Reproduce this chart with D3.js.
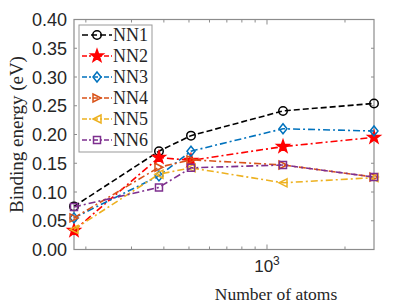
<!DOCTYPE html>
<html>
<head>
<meta charset="utf-8">
<script src="https://cdn.jsdelivr.net/npm/d3@7"></script>
<style>
  body { margin: 0; background: #fff; }
  svg text { fill: #262626; }
</style>
</head>
<body>
<svg id="chart" width="407" height="305"></svg>
<script>
// data
const atoms = [180, 383, 509, 1153, 2588];
const names = ["NN1", "NN2", "NN3", "NN4", "NN5", "NN6"];
const nn1 = [0.075, 0.171, 0.198, 0.241, 0.254];
const nn2 = [0.033, 0.160, 0.155, 0.179, 0.195];
const nn3 = [0.055, 0.128, 0.171, 0.210, 0.206];
const nn4 = [0.055, 0.143, 0.156, 0.147, 0.126];
const nn5 = [0.035, 0.131, 0.142, 0.116, 0.125];
const nn6 = [0.074, 0.108, 0.142, 0.147, 0.126];
const yTicks = [0, 0.05, 0.1, 0.15, 0.2, 0.25, 0.3, 0.35, 0.4];
const xMinor = [200, 300, 400, 500, 600, 700, 800, 900, 2000];

const colors = ["#000000", "#ff0000", "#0072bd", "#d95319", "#edb120", "#7e2f8e"];
const shapes = ["circle", "star", "diamond", "right", "left", "square"];
const series = [nn1, nn2, nn3, nn4, nn5, nn6];

const margin = { top: 19.5, right: 33, bottom: 55.5, left: 74 };
const W = 407, H = 305;
const width = W - margin.left - margin.right;
const height = H - margin.top - margin.bottom;

const svg = d3.select("#chart");
const g = svg.append("g").attr("transform", `translate(${margin.left},${margin.top})`);

const x = d3.scaleLog().domain([180, 2588]).range([0, width]);
const y = d3.scaleLinear().domain([0, 0.4]).range([height, 0]);

const axisColor = "#8c8c8c";
const tickLen = 3;

// box
g.append("rect")
  .attr("width", width).attr("height", height)
  .attr("fill", "none").attr("stroke", axisColor).attr("stroke-width", 1.2);

// y ticks (left and right, inward)
yTicks.forEach((t) => {
  const yy = y(t);
  g.append("line").attr("x1", 0).attr("x2", tickLen).attr("y1", yy).attr("y2", yy)
    .attr("stroke", axisColor);
  g.append("line").attr("x1", width).attr("x2", width - tickLen).attr("y1", yy).attr("y2", yy)
    .attr("stroke", axisColor);
  g.append("text")
    .attr("x", -7).attr("y", yy + 6.5)
    .attr("text-anchor", "end")
    .style("font-family", "Liberation Sans, Arial, sans-serif")
    .style("font-size", "18px")
    .text(t.toFixed(2));
});

// x ticks (bottom and top, inward)
[...xMinor, 1000].forEach((t) => {
  const xx = x(t);
  const len = t === 1000 ? 5 : tickLen;
  g.append("line").attr("x1", xx).attr("x2", xx).attr("y1", height).attr("y2", height - len)
    .attr("stroke", axisColor);
  g.append("line").attr("x1", xx).attr("x2", xx).attr("y1", 0).attr("y2", len)
    .attr("stroke", axisColor);
});

const xl = g.append("text")
  .attr("x", x(1000)).attr("y", height + 22)
  .attr("text-anchor", "middle")
  .style("font-family", "Liberation Sans, Arial, sans-serif")
  .style("font-size", "17px");
xl.append("tspan").text("10");
xl.append("tspan").attr("dy", -7).style("font-size", "12px").text("3");

// axis labels
svg.append("text")
  .attr("x", 276).attr("y", 300)
  .attr("text-anchor", "middle")
  .style("font-family", "Liberation Serif, Times New Roman, serif")
  .style("font-size", "17.5px")
  .text("Number of atoms");

svg.append("text")
  .attr("transform", `translate(23, ${margin.top + height / 2}) rotate(-90)`)
  .attr("text-anchor", "middle")
  .style("font-family", "Liberation Serif, Times New Roman, serif")
  .style("font-size", "19px")
  .text("Binding energy (eV)");

// marker path generator
function markerPath(shape) {
  const s = 4;
  switch (shape) {
    case "circle": return d3.symbol(d3.symbolCircle, Math.PI * 18)();
    case "square": return `M${-3.5},${-3.5}H3.5V3.5H-3.5Z`;
    case "diamond": return `M0,${-s - 1}L${s},0L0,${s + 1}L${-s},0Z`;
    case "right": return `M${-s},${-s}L${s},0L${-s},${s}Z`;
    case "left": return `M${s},${-s}L${-s},0L${s},${s}Z`;
    case "star": {
      const pts = [];
      for (let i = 0; i < 10; i++) {
        const r = i % 2 === 0 ? 6.5 : 2.6;
        const a = -Math.PI / 2 + i * Math.PI / 5;
        pts.push([r * Math.cos(a), r * Math.sin(a)]);
      }
      return "M" + pts.map((p) => p.join(",")).join("L") + "Z";
    }
  }
}

const line = d3.line().x((d, i) => x(atoms[i])).y((d) => y(d));
const dash = "7,3,2,3";

series.forEach((vals, k) => {
  g.append("path")
    .datum(vals)
    .attr("d", line)
    .attr("fill", "none")
    .attr("stroke", colors[k])
    .attr("stroke-width", 1.6)
    .attr("stroke-dasharray", k === 0 ? "6,3" : dash);
  g.selectAll(null)
    .data(vals)
    .enter()
    .append("path")
    .attr("transform", (d, i) => `translate(${x(atoms[i])},${y(d)})`)
    .attr("d", markerPath(shapes[k]))
    .attr("fill", shapes[k] === "star" ? colors[k] : "none")
    .attr("stroke", colors[k])
    .attr("stroke-width", 1.5);
});

// legend
const lg = svg.append("g").attr("transform", "translate(79,25)");
lg.append("rect")
  .attr("width", 73).attr("height", 127)
  .attr("fill", "#fff").attr("stroke", "#999").attr("stroke-width", 1);
names.forEach((n, k) => {
  const yy = 10 + k * 21;
  lg.append("line")
    .attr("x1", 3).attr("x2", 33).attr("y1", yy).attr("y2", yy)
    .attr("stroke", colors[k]).attr("stroke-width", 1.6)
    .attr("stroke-dasharray", k === 0 ? "6,3" : "5,2,2,2");
  lg.append("path")
    .attr("transform", `translate(18,${yy})`)
    .attr("d", markerPath(shapes[k]))
    .attr("fill", shapes[k] === "star" ? colors[k] : "none")
    .attr("stroke", colors[k]).attr("stroke-width", 1.5);
  lg.append("text")
    .attr("x", 34).attr("y", yy + 6)
    .style("font-family", "Liberation Serif, Times New Roman, serif")
    .style("font-size", "18px")
    .text(n);
});
</script>
</body>
</html>
